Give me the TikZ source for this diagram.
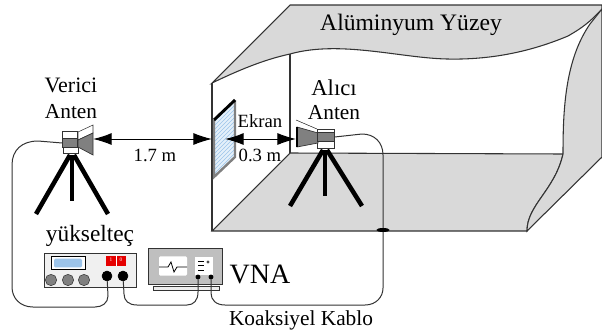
\documentclass[tikz,border=0pt]{standalone}
\usepackage{fontspec}
\setmainfont{Liberation Serif}
\usetikzlibrary{arrows.meta,patterns,shapes.geometric}
\definecolor{wallgray}{HTML}{D9D9D9}
\definecolor{horngray}{HTML}{808080}
\definecolor{edgecol}{HTML}{333333}
\definecolor{screenblue}{HTML}{E4F0FA}
\definecolor{hatchblue}{HTML}{9CC4EA}
\tikzset{
  wall/.style={draw=edgecol,line width=0.8pt,fill=wallgray},
  edgeline/.style={draw=edgecol,line width=0.8pt},
  cable/.style={draw=edgecol,line width=0.75pt},
  dimarrow/.style={draw=black,line width=0.75pt,{Latex[length=14pt,width=9pt]}-{Latex[length=14pt,width=9pt]}},
  leg/.style={draw=black,line width=3.4pt},
  lab/.style={inner sep=0pt,font=\fontsize{16}{16}\selectfont},
  hornbody/.style={draw=edgecol,line width=0.5pt,fill=horngray},
  knob/.style={circle,draw=edgecol,fill=horngray,minimum size=8.5pt,inner sep=0pt,line width=0.4pt},
  portblack/.style={circle,draw=black,fill=black,minimum size=7.5pt,inner sep=0pt},
  portsmall/.style={circle,draw=black,fill=black,minimum size=3.2pt,inner sep=0pt},
}
\begin{document}
\begin{tikzpicture}[x=0.75pt,y=-0.75pt]
\useasboundingbox (0,0) rectangle (602,332);
% top face
\path[wall] (212,83) -- (290,5) -- (602,5) -- (602,9) .. controls (590,22) and (582,28) .. (568,36)
  .. controls (530,52) and (490,60) .. (447,59)
  .. controls (400,58) and (340,40) .. (290,54)
  .. controls (262,60) and (235,72) .. (212,83) -- cycle;
% floor
\path[wall] (212,231) -- (290,153) -- (563,154) .. controls (555,190) and (527,205) .. (527,231) -- cycle;
% right side
\path[wall] (602,9) -- (602,157) -- (527,231) .. controls (527,205) and (555,190) .. (563,154)
  .. controls (563,110) and (565,60) .. (590,24) -- cycle;
\draw[edgeline] (212,83) -- (212,231);
\draw[edgeline] (290,54) -- (290,153);
% screen
\path[fill=screenblue] (214,120) -- (235,100) -- (235,157) -- (214,177) -- cycle;
\path[pattern=north east lines,pattern color=hatchblue] (214,120) -- (235,100) -- (235,157) -- (214,177) -- cycle;
\draw[draw=horngray,line width=1.8pt] (214,120) -- (214,177) -- (235,157) -- (235,100);
\draw[draw=black,line width=2.2pt] (214,120) -- (235,100);
% left antenna
\coordinate (ltop) at (70,155);
\draw[leg] (70,155) -- (36,214);
\draw[leg] (72,155) -- (72,201);
\draw[leg] (74,155) -- (108,214);
\path[draw=edgecol,fill=white,line width=0.4pt] (63,147) rectangle (78,153);
\node[draw=edgecol,fill=white,minimum width=11.2pt,minimum height=5.2pt,inner sep=0pt,line width=0.5pt] (ltx1) at (70,135) {};
\node[hornbody,minimum width=11.2pt,minimum height=6.4pt,inner sep=0pt] (ltx) at (70,143) {};
\path[draw=edgecol,fill=white,line width=0.4pt] (78,132) -- (93,125) -- (93,133) -- (78,140) -- cycle;
\path[hornbody] (78,140) -- (93,133) -- (93,155) -- (78,147) -- cycle;
\coordinate (lhorn) at (93,139);
% right antenna
\draw[leg] (323,150) -- (290,206);
\draw[leg] (325,150) -- (325,196);
\draw[leg] (327,150) -- (362,206);
\path[draw=edgecol,fill=white,line width=0.4pt] (317,141) rectangle (334,148);
\path[draw=black,line width=0.3pt] (296,120) -- (317,129);
\path[hornbody] (297,127) -- (318,133) -- (318,143) -- (297,147) -- cycle;
\draw[draw=black,line width=1.2pt] (297,127) -- (297,147);
\node[draw=edgecol,fill=white,minimum width=12.4pt,minimum height=3pt,inner sep=0pt,line width=0.4pt] (rx1) at (326,131) {};
\node[hornbody,minimum width=12.4pt,minimum height=6.8pt,inner sep=0pt] (rx) at (326,137) {};
\coordinate (rhorn) at (296,139);
\coordinate (wallL) at (212,139);
\coordinate (screenR) at (225,139);
% distance arrows
\draw[dimarrow] (lhorn) -- (wallL);
\draw[dimarrow] (screenR) -- (rhorn);
% amplifier
\node[draw=edgecol,fill=gray!12,minimum width=69pt,minimum height=25.5pt,inner sep=0pt,line width=0.6pt] (amp) at (90,270) {};
\node[draw=black,fill=white,minimum width=25.5pt,minimum height=9.5pt,inner sep=0pt,line width=0.5pt] (win) at (68,263) {};
\node[draw=none,fill=hatchblue,rounded corners=1pt,minimum width=21pt,minimum height=6.5pt,inner sep=0pt] (wini) at (68,263) {};
\node[draw=none,fill=red!90!black,minimum width=14.5pt,minimum height=8pt,inner sep=0pt] (sw) at (116,261) {};
\draw[white,line width=0.6pt] (116,255) -- (116,266);
\node[inner sep=0pt,text=white,font=\fontsize{4}{4}\selectfont] (sw1) at (111,260) {1};
\node[inner sep=0pt,text=white,font=\fontsize{4}{4}\selectfont] (sw0) at (121,260) {0};
\node[knob] (k1) at (51,280) {};
\node[knob] (k2) at (68,280) {};
\node[knob] (k3) at (84,280) {};
\node[portblack] (pa) at (107,276) {};
\node[portblack] (pb) at (123,276) {};
% VNA
\path[draw=edgecol,fill=gray!15,line width=0.5pt] (153,286) rectangle (219,290);
\node[draw=edgecol,fill=gray!50,minimum width=55.5pt,minimum height=27pt,inner sep=0pt,line width=0.7pt] (vna) at (185,266) {};
\node[draw=none,fill=white,rounded corners=1pt,minimum width=21pt,minimum height=14.5pt,inner sep=0pt] (scr) at (173,266) {};
\draw[black,line width=0.6pt] (159,267) -- (168,267) -- (171,262) -- (174,272) -- (177,267) -- (187,267);
\node[draw=none,fill=white,minimum width=13pt,minimum height=12.8pt,inner sep=0pt] (pnl) at (204,266) {};
\draw[black,line width=0.6pt] (198,261) -- (204,261) (198,265) -- (204,265) (198,270) -- (204,270);
\fill[black!70] (208,262) circle (1.7);
\node[portsmall] (pc) at (198,277) {};
\node[portsmall] (pd) at (211,277) {};
% cables
\draw[cable] (pa) -- (108,296) .. controls (108,303) and (102,307) .. (95,307) -- (33,307)
  .. controls (20,307) and (12,298) .. (12,287) -- (12,165) .. controls (12,150) and (22,141) .. (38,141) -- (ltx.west);
\draw[cable] (pb) -- (124,294) .. controls (124,301) and (129,305) .. (137,305) -- (187,305)
  .. controls (194,305) and (198,300) .. (198,292) -- (pc);
\draw[cable] (pd) -- (211,293) .. controls (211,300) and (216,305) .. (225,305) -- (365,305)
  .. controls (376,305) and (383,297) .. (383,288) -- (383,155) .. controls (383,142) and (374,134) .. (362,134) -- (rx.east);
\node[draw=none,fill=black,ellipse,minimum width=10pt,minimum height=3pt,inner sep=0pt] (feed) at (383,230) {};
% labels
\node[lab,font=\fontsize{17.7}{17.7}\selectfont] (t1) at (411,25) {Alüminyum Yüzey};
\node[lab,font=\fontsize{16.5}{16.5}\selectfont] (t2) at (71,85) {Verici};
\node[lab] (t3) at (71,112) {Anten};
\node[lab,font=\fontsize{14}{14}\selectfont] (t4) at (155,155) {1.7 m};
\node[lab,font=\fontsize{17}{17}\selectfont] (t5) at (334,88) {Alıcı};
\node[lab] (t6) at (334,113) {Anten};
\node[lab,font=\fontsize{14}{14}\selectfont] (t7) at (260,121) {Ekran};
\node[lab,font=\fontsize{14}{14}\selectfont] (t8) at (260,155) {0.3 m};
\node[lab,font=\fontsize{17.5}{17.5}\selectfont] (t9) at (90,236) {yükselteç};
\node[lab,font=\fontsize{21}{21}\selectfont] (t10) at (260,274) {VNA};
\node[lab,font=\fontsize{16}{16}\selectfont] (t11) at (301,320) {Koaksiyel Kablo};
\end{tikzpicture}
\end{document}
